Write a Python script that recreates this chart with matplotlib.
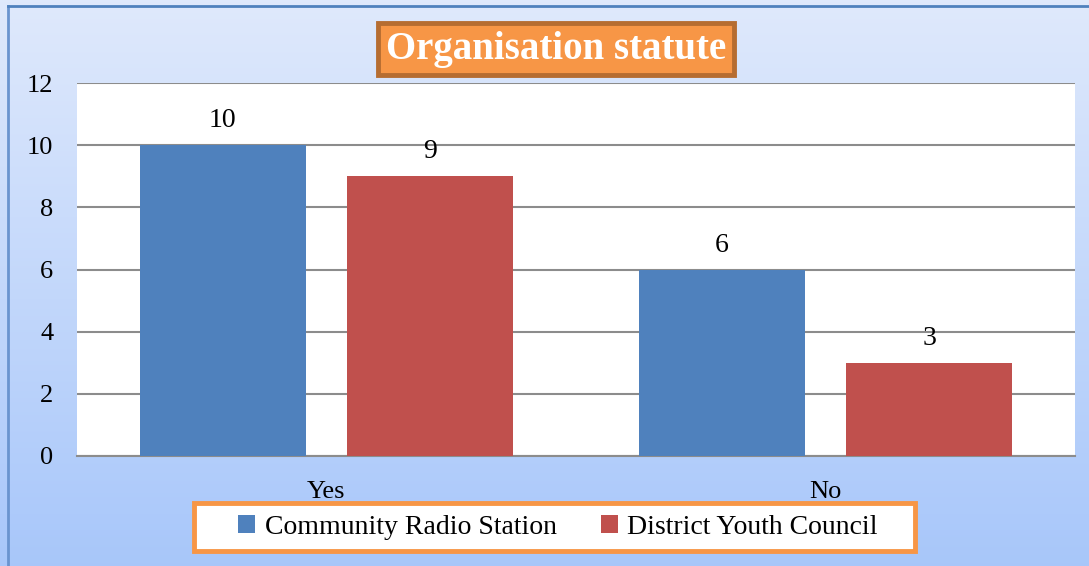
import matplotlib.pyplot as plt
import numpy as np
from matplotlib.patches import Rectangle

categories = ['Yes', 'No']
series_names = ['Community Radio Station', 'District Youth Council']
radio_values = [10, 6]
youth_values = [9, 3]
colors = ['#4f81bd', '#c0504d']

plt.rcParams['font.family'] = ['Liberation Serif', 'DejaVu Serif']

fig = plt.figure(figsize=(10.89, 5.66), dpi=100)

# gradient background
bg = fig.add_axes([0, 0, 1, 1], zorder=-10)
grad = np.linspace(0, 1, 256).reshape(-1, 1)
top = np.array([0.875, 0.914, 0.988])
bottom = np.array([0.659, 0.780, 0.980])
img = top + (bottom - top) * grad[:, :, None]
bg.imshow(img, aspect='auto', extent=[0, 1, 0, 1], origin='upper')
bg.plot([0.007, 0.007], [0, 0.99], color='#6a94cf', lw=2)
bg.plot([0.007, 1], [0.99, 0.99], color='#4f81bd', lw=2)
# legend box
bg.add_patch(Rectangle((194 / 1089, 1 - 551 / 566), 721 / 1089, 48 / 566,
                       fc='white', ec='#f79646', lw=3.5, zorder=5))
bg.set_xlim(0, 1)
bg.set_ylim(0, 1)
bg.axis('off')

ax = fig.add_axes([77 / 1089, 1 - 456 / 566, 998 / 1089, 373 / 566])
ax.set_facecolor('white')

x = np.arange(len(categories))
w = 0.333
off = 0.208
b1 = ax.bar(x - off, radio_values, w, color=colors[0], label=series_names[0], zorder=3)
b2 = ax.bar(x + off, youth_values, w, color=colors[1], label=series_names[1], zorder=3)
for bars in (b1, b2):
    for r in bars:
        ax.text(r.get_x() + r.get_width() / 2, r.get_height() + 0.38,
                f'{r.get_height():g}', ha='center', va='bottom', fontsize=20)

ax.set_xlim(-0.5, 1.5)
ax.set_ylim(0, 12)
ax.set_yticks(range(0, 13, 2))
ax.set_xticks(x)
ax.set_xticklabels(categories)
ax.tick_params(axis='both', length=0, labelsize=19)
ax.tick_params(axis='y', pad=17)
ax.tick_params(axis='x', pad=18)
ax.yaxis.grid(True, color='#8c8c8c', lw=1.5, zorder=0)
for s in ['left', 'right', 'top']:
    ax.spines[s].set_visible(False)
ax.spines['bottom'].set_color('#8c8c8c')
ax.spines['bottom'].set_linewidth(1.5)

# title box
fig.text(556 / 1089, 1 - 49 / 566, 'Organisation statute', ha='center', va='center',
         fontsize=28, fontweight='bold', color='white',
         bbox=dict(boxstyle='square,pad=0.2', fc='#f79646', ec='#b66d31', lw=3.5))

leg = fig.legend(loc='center', bbox_to_anchor=(558 / 1089, 1 - 527 / 566), ncol=2,
                 fontsize=20, frameon=False, handlelength=0.6,
                 handleheight=0.6, handletextpad=0.35, columnspacing=1.6)

fig.savefig('out.png', dpi=100)
